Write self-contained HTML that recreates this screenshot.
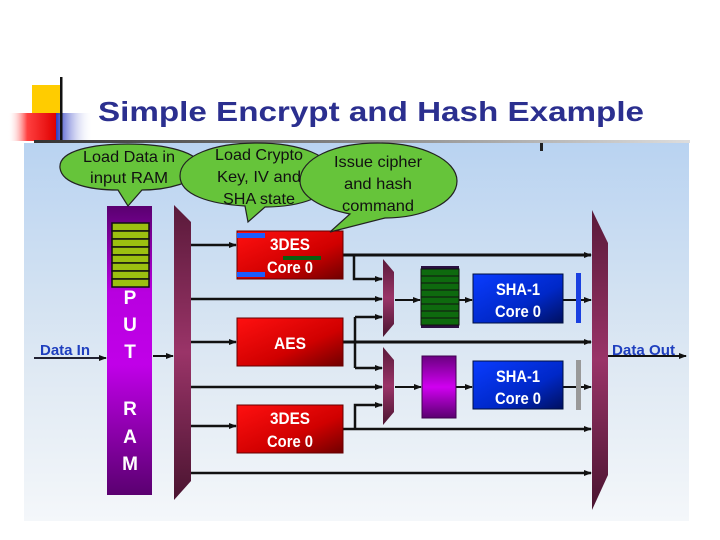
<!DOCTYPE html>
<html><head><meta charset="utf-8"><style>
html,body{margin:0;padding:0;background:#fff;width:720px;height:540px;overflow:hidden}
svg{display:block}
text{font-family:"Liberation Sans",Arial,sans-serif}
</style></head><body>
<svg width="720" height="540" viewBox="0 0 720 540" xmlns="http://www.w3.org/2000/svg">
<defs>
<linearGradient id="bg" x1="0" y1="0" x2="0" y2="1"><stop offset="0" stop-color="#b9d3f1"/><stop offset="0.6" stop-color="#dfe9f3"/><stop offset="1" stop-color="#f4f7fa"/></linearGradient>
<linearGradient id="red" x1="0" y1="0" x2="1" y2="1"><stop offset="0" stop-color="#ff1010"/><stop offset="0.6" stop-color="#d00000"/><stop offset="1" stop-color="#700000"/></linearGradient>
<linearGradient id="blue" x1="0" y1="0" x2="1" y2="1"><stop offset="0" stop-color="#0a3cff"/><stop offset="0.6" stop-color="#0028c8"/><stop offset="1" stop-color="#001060"/></linearGradient>
<linearGradient id="ram" x1="0" y1="0" x2="0" y2="1"><stop offset="0" stop-color="#5a0070"/><stop offset="0.3" stop-color="#b800e0"/><stop offset="0.55" stop-color="#c000e8"/><stop offset="1" stop-color="#5a0070"/></linearGradient>
<linearGradient id="pur" x1="0" y1="0" x2="0" y2="1"><stop offset="0" stop-color="#6a0080"/><stop offset="0.5" stop-color="#d000f0"/><stop offset="1" stop-color="#5a0070"/></linearGradient>
<linearGradient id="mux" x1="0" y1="0" x2="0" y2="1"><stop offset="0" stop-color="#5a1a3a"/><stop offset="0.5" stop-color="#9a3468"/><stop offset="1" stop-color="#4a1430"/></linearGradient>
<linearGradient id="rd" x1="0" y1="0" x2="1" y2="0"><stop offset="0" stop-color="#fff" stop-opacity="0"/><stop offset="0.4" stop-color="#ff4040"/><stop offset="1" stop-color="#e00000"/></linearGradient>
<linearGradient id="bl" x1="0" y1="0" x2="1" y2="0"><stop offset="0" stop-color="#2030c0"/><stop offset="1" stop-color="#fff" stop-opacity="0"/></linearGradient>
<linearGradient id="hl" x1="0" y1="0" x2="1" y2="0"><stop offset="0" stop-color="#333"/><stop offset="0.6" stop-color="#999"/><stop offset="1" stop-color="#ddd"/></linearGradient>
<marker id="a" markerWidth="8" markerHeight="6" refX="7" refY="3" orient="auto" markerUnits="userSpaceOnUse"><path d="M0,0L8,3L0,6z" fill="#111"/></marker>
</defs>
<!-- title deco -->
<rect x="32" y="85" width="30" height="30" fill="#ffcc00"/>
<rect x="55" y="113" width="38" height="28" fill="url(#bl)"/>
<rect x="8" y="113" width="48" height="28" fill="url(#rd)"/>
<rect x="60" y="77" width="2.5" height="66" fill="#111"/>
<rect x="34" y="140" width="656" height="3" fill="url(#hl)"/>
<text x="98" y="121" font-size="28" font-weight="bold" fill="#2b2f8f" textLength="546" lengthAdjust="spacingAndGlyphs">Simple Encrypt and Hash Example</text>
<rect x="24" y="143" width="665" height="378" fill="url(#bg)"/>
<rect x="540" y="143" width="3" height="8" fill="#222"/>

<!-- input RAM -->
<rect x="107" y="206" width="45" height="289" fill="url(#ram)"/>
<g fill="#9cc010" stroke="#111" stroke-width="1.5">
<rect x="112" y="223" width="37" height="8"/><rect x="112" y="231" width="37" height="8"/><rect x="112" y="239" width="37" height="8"/><rect x="112" y="247" width="37" height="8"/><rect x="112" y="255" width="37" height="8"/><rect x="112" y="263" width="37" height="8"/><rect x="112" y="271" width="37" height="8"/><rect x="112" y="279" width="37" height="8"/>
</g>
<g font-size="19" font-weight="bold" fill="#fff" text-anchor="middle">
<text x="130" y="304">P</text><text x="130" y="331">U</text><text x="130" y="358">T</text><text x="130" y="415">R</text><text x="130" y="443">A</text><text x="130" y="470">M</text>
</g>
<!-- data in -->
<text x="40" y="355" font-size="15" font-weight="bold" fill="#1f3fbf" textLength="50" lengthAdjust="spacingAndGlyphs">Data In</text>
<line x1="34" y1="358" x2="106" y2="358" stroke="#223" stroke-width="2" marker-end="url(#a)"/>
<line x1="153" y1="356" x2="173" y2="356" stroke="#111" stroke-width="2" marker-end="url(#a)"/>
<!-- left mux -->
<polygon points="174,205 191,222 191,481 174,500" fill="url(#mux)"/>

<g stroke="#111" stroke-width="2.5" fill="none">
<line x1="191" y1="245" x2="236" y2="245" marker-end="url(#a)"/>
<line x1="191" y1="342" x2="236" y2="342" marker-end="url(#a)"/>
<line x1="191" y1="426" x2="236" y2="426" marker-end="url(#a)"/>
<line x1="191" y1="299" x2="382" y2="299" marker-end="url(#a)"/>
<line x1="191" y1="387" x2="382" y2="387" marker-end="url(#a)"/>
<line x1="191" y1="473" x2="591" y2="473" marker-end="url(#a)"/>
<line x1="343" y1="255" x2="591" y2="255" stroke-width="3" marker-end="url(#a)"/>
<line x1="343" y1="342" x2="591" y2="342" stroke-width="3" marker-end="url(#a)"/>
<line x1="343" y1="429" x2="591" y2="429" marker-end="url(#a)"/>
<polyline points="354,255 354,279 382,279" marker-end="url(#a)"/>
<polyline points="355,317 382,317" marker-end="url(#a)"/>
<line x1="355" y1="317" x2="355" y2="368"/>
<polyline points="355,368 382,368" marker-end="url(#a)"/>
<polyline points="355,429 355,405 382,405" marker-end="url(#a)"/>
<line x1="395" y1="300" x2="420" y2="300" stroke-width="2" marker-end="url(#a)"/>
<line x1="395" y1="387" x2="421" y2="387" stroke-width="2" marker-end="url(#a)"/>
<line x1="459" y1="300" x2="472" y2="300" stroke-width="2" marker-end="url(#a)"/>
<line x1="456" y1="387" x2="472" y2="387" stroke-width="2" marker-end="url(#a)"/>
<line x1="563" y1="300" x2="591" y2="300" stroke-width="2" marker-end="url(#a)"/>
<line x1="563" y1="387" x2="591" y2="387" stroke-width="2" marker-end="url(#a)"/>
<line x1="608" y1="356" x2="686" y2="356" stroke-width="2" marker-end="url(#a)"/>
</g>

<!-- blocks -->
<rect x="237" y="231" width="106" height="48" fill="url(#red)" stroke="#600" stroke-width="1"/>
<rect x="237" y="233" width="28" height="5" fill="#1a5cff"/>
<rect x="237" y="272" width="28" height="5" fill="#1a5cff"/>
<rect x="283" y="256" width="38" height="4" fill="#0a6010"/>
<rect x="237" y="318" width="106" height="48" fill="url(#red)" stroke="#600" stroke-width="1"/>
<rect x="237" y="405" width="106" height="48" fill="url(#red)" stroke="#600" stroke-width="1"/>
<g font-size="17" font-weight="bold" fill="#fff" text-anchor="middle">
<text x="290" y="250" textLength="40" lengthAdjust="spacingAndGlyphs">3DES</text>
<text x="290" y="273" textLength="46" lengthAdjust="spacingAndGlyphs">Core 0</text>
<text x="290" y="349" textLength="32" lengthAdjust="spacingAndGlyphs">AES</text>
<text x="290" y="424" textLength="40" lengthAdjust="spacingAndGlyphs">3DES</text>
<text x="290" y="447" textLength="46" lengthAdjust="spacingAndGlyphs">Core 0</text>
</g>
<polygon points="383,259 394,272 394,324 383,337" fill="url(#mux)"/>
<polygon points="383,347 394,360 394,412 383,425" fill="url(#mux)"/>
<rect x="421" y="266" width="38" height="62" fill="#2a1040"/>
<g fill="#0e6a0e" stroke="#111" stroke-width="1">
<rect x="421" y="269" width="38" height="7"/><rect x="421" y="276" width="38" height="7"/><rect x="421" y="283" width="38" height="7"/><rect x="421" y="290" width="38" height="7"/><rect x="421" y="297" width="38" height="7"/><rect x="421" y="304" width="38" height="7"/><rect x="421" y="311" width="38" height="7"/><rect x="421" y="318" width="38" height="7"/>
</g>
<rect x="422" y="356" width="34" height="62" fill="url(#pur)" stroke="#400050" stroke-width="1"/>
<rect x="473" y="274" width="90" height="49" fill="url(#blue)" stroke="#001040" stroke-width="1"/>
<rect x="473" y="361" width="90" height="48" fill="url(#blue)" stroke="#001040" stroke-width="1"/>
<g font-size="17" font-weight="bold" fill="#fff" text-anchor="middle">
<text x="518" y="295" textLength="44" lengthAdjust="spacingAndGlyphs">SHA-1</text>
<text x="518" y="317" textLength="46" lengthAdjust="spacingAndGlyphs">Core 0</text>
<text x="518" y="382" textLength="44" lengthAdjust="spacingAndGlyphs">SHA-1</text>
<text x="518" y="404" textLength="46" lengthAdjust="spacingAndGlyphs">Core 0</text>
</g>
<rect x="576" y="273" width="5" height="50" fill="#1a40e0"/>
<rect x="576" y="360" width="5" height="50" fill="#999"/>
<!-- right mux -->
<polygon points="592,210 608,243 608,475 592,510" fill="url(#mux)"/>
<text x="612" y="355" font-size="15" font-weight="bold" fill="#1f3fbf" textLength="63" lengthAdjust="spacingAndGlyphs">Data Out</text>

<!-- bubbles -->
<g fill="#66c43a" stroke="#222" stroke-width="1.2">
<path d="M60,168 C58,150 95,144 128,144 C165,144 200,152 200,167 C200,183 165,190 142,190 L128,206 L118,190 C90,190 62,184 60,168 Z"/>
<path d="M180,176 C180,155 215,143 257,143 C300,143 334,156 334,176 C334,196 300,207 265,207 L248,222 L245,206 C210,204 180,195 180,176 Z"/>
<path d="M300,181 C300,158 335,143 378,143 C422,143 457,160 457,181 C457,203 422,218 385,218 L330,232 L350,214 C320,208 300,196 300,181 Z"/>
</g>
<g font-size="16" fill="#111" text-anchor="middle">
<text x="129" y="162" textLength="92" lengthAdjust="spacingAndGlyphs">Load Data in</text>
<text x="129" y="183" textLength="78" lengthAdjust="spacingAndGlyphs">input RAM</text>
<text x="259" y="160" textLength="88" lengthAdjust="spacingAndGlyphs">Load Crypto</text>
<text x="259" y="182" textLength="84" lengthAdjust="spacingAndGlyphs">Key, IV and</text>
<text x="259" y="204" textLength="72" lengthAdjust="spacingAndGlyphs">SHA state</text>
<text x="378" y="167" textLength="88" lengthAdjust="spacingAndGlyphs">Issue cipher</text>
<text x="378" y="189" textLength="68" lengthAdjust="spacingAndGlyphs">and hash</text>
<text x="378" y="211" textLength="72" lengthAdjust="spacingAndGlyphs">command</text>
</g>
</svg>
</body></html>
